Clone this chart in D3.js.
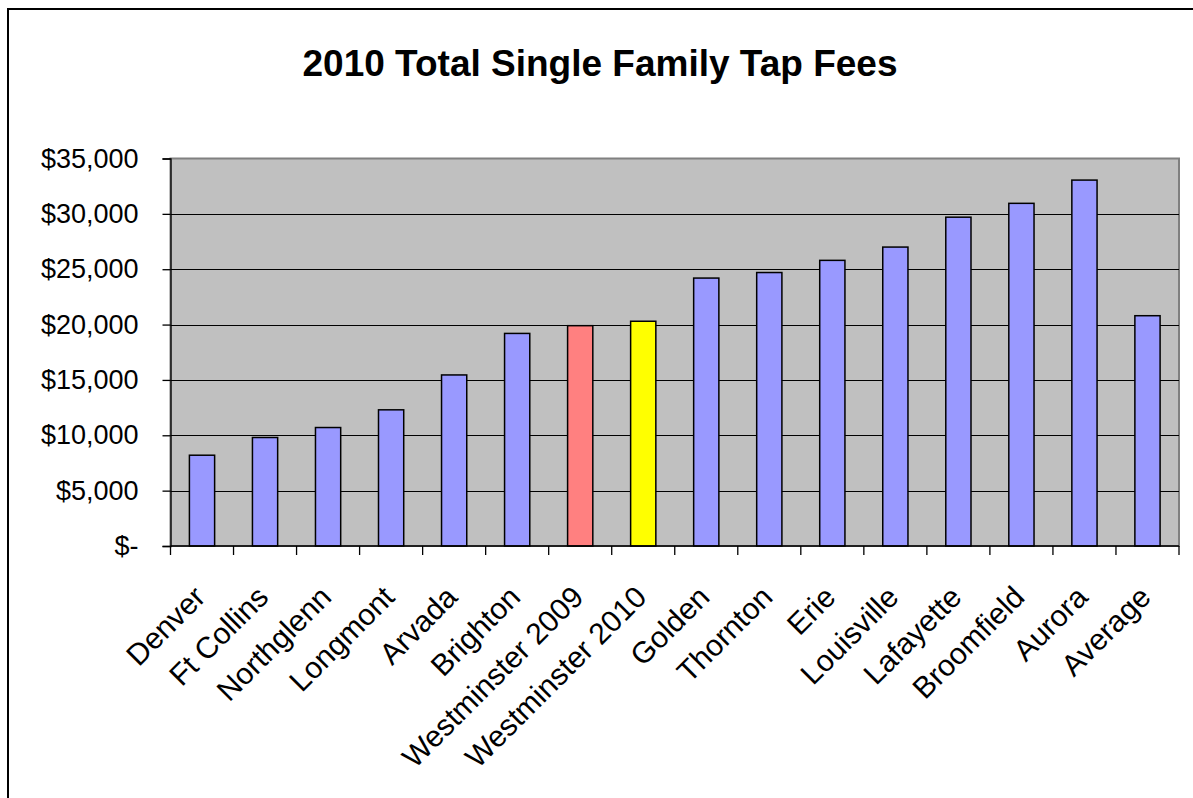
<!DOCTYPE html>
<html>
<head>
<meta charset="utf-8">
<script src="https://cdn.jsdelivr.net/npm/d3@7"></script>
<style>
  body { margin: 0; background: #fff; }
  text { font-family: "Liberation Sans", Arial, sans-serif; fill: #000; }
</style>
</head>
<body>
<svg id="chart"></svg>
<script>
const WIDTH = 1193;
const HEIGHT = 798;

const cities = [
  "Denver", "Ft Collins", "Northglenn", "Longmont", "Arvada", "Brighton",
  "Westminster 2009", "Westminster 2010", "Golden", "Thornton", "Erie",
  "Louisville", "Lafayette", "Broomfield", "Aurora", "Average"
];
const fees = [
  8200, 9800, 10700, 12300, 15450, 19200, 19900, 20300,
  24200, 24700, 25800, 27000, 29700, 30950, 33050, 20800
];
const yTicks = [0, 5000, 10000, 15000, 20000, 25000, 30000, 35000];

// special bars
const barColor = (d) =>
  d === "Westminster 2009" ? "#FF8080" :
  d === "Westminster 2010" ? "#FFFF00" : "#9999FF";

const margin = { top: 158.5, right: 14, bottom: 252, left: 170.5 };

const svg = d3.select("#chart")
  .attr("width", WIDTH)
  .attr("height", HEIGHT);

// chart area border (only top & left are inside the picture)
svg.append("path")
  .attr("d", "M8," + HEIGHT + "V9H" + WIDTH)
  .attr("fill", "none")
  .attr("stroke", "#000")
  .attr("stroke-width", 2);

svg.append("text")
  .attr("x", 600)
  .attr("y", 76)
  .attr("text-anchor", "middle")
  .style("font-size", "37px")
  .style("font-weight", "bold")
  .text("2010 Total Single Family Tap Fees");

const x = d3.scaleBand()
  .domain(cities)
  .range([margin.left, WIDTH - margin.right])
  .paddingInner(0.6)
  .paddingOuter(0.3);

const y = d3.scaleLinear()
  .domain([0, 35000])
  .range([HEIGHT - margin.bottom, margin.top]);

const plotW = WIDTH - margin.right - margin.left;
const plotH = HEIGHT - margin.bottom - margin.top;

svg.append("rect")
  .attr("x", margin.left)
  .attr("y", margin.top)
  .attr("width", plotW)
  .attr("height", plotH)
  .attr("fill", "#C0C0C0")
  .attr("stroke", "#808080")
  .attr("stroke-width", 2);

// gridlines
svg.append("g")
  .selectAll("line")
  .data(yTicks.slice(1, -1))
  .enter()
  .append("line")
  .attr("x1", margin.left)
  .attr("x2", margin.left + plotW)
  .attr("y1", (d) => Math.round(y(d)) + 0.5)
  .attr("y2", (d) => Math.round(y(d)) + 0.5)
  .attr("stroke", "#000")
  .attr("stroke-width", 1.2);

svg.append("g")
  .selectAll("rect")
  .data(cities)
  .enter()
  .append("rect")
  .attr("x", (d) => x(d))
  .attr("y", (d, i) => y(fees[i]))
  .attr("width", x.bandwidth())
  .attr("height", (d, i) => y(0) - y(fees[i]))
  .attr("fill", (d) => barColor(d))
  .attr("stroke", "#000")
  .attr("stroke-width", 1.5);

// y axis
const yAxis = d3.axisLeft(y)
  .tickValues(yTicks)
  .tickSize(8)
  .tickPadding(24)
  .tickFormat((d) => d === 0 ? "$-" : "$" + d3.format(",")(d));

const yG = svg.append("g")
  .attr("transform", "translate(" + margin.left + ",0)")
  .call(yAxis);
yG.selectAll("line").attr("stroke", "#000").attr("stroke-width", 1.3);
yG.select(".domain").attr("stroke", "#000").attr("stroke-width", 1.3);
yG.selectAll("text")
  .style("font-size", "27px")
  .attr("font-family", null);

// x axis: ticks sit between categories
const xEdges = d3.range(cities.length + 1).map((i) => margin.left + i * plotW / cities.length);

const xG = svg.append("g");
xG.append("line")
  .attr("x1", margin.left)
  .attr("x2", margin.left + plotW)
  .attr("y1", y(0))
  .attr("y2", y(0))
  .attr("stroke", "#000")
  .attr("stroke-width", 1.3);
xG.selectAll(".tick")
  .data(xEdges)
  .enter()
  .append("line")
  .attr("class", "tick")
  .attr("x1", (d) => d)
  .attr("x2", (d) => d)
  .attr("y1", y(0))
  .attr("y2", y(0) + 9)
  .attr("stroke", "#000")
  .attr("stroke-width", 1.3);

xG.selectAll("text")
  .data(cities)
  .enter()
  .append("text")
  .attr("text-anchor", "end")
  .attr("transform", (d) =>
    "translate(" + (x(d) + x.bandwidth() / 2 + 5) + "," + (y(0) + 53) + ") rotate(-45)")
  .style("font-size", "30px")
  .text((d) => d);
</script>
</body>
</html>
